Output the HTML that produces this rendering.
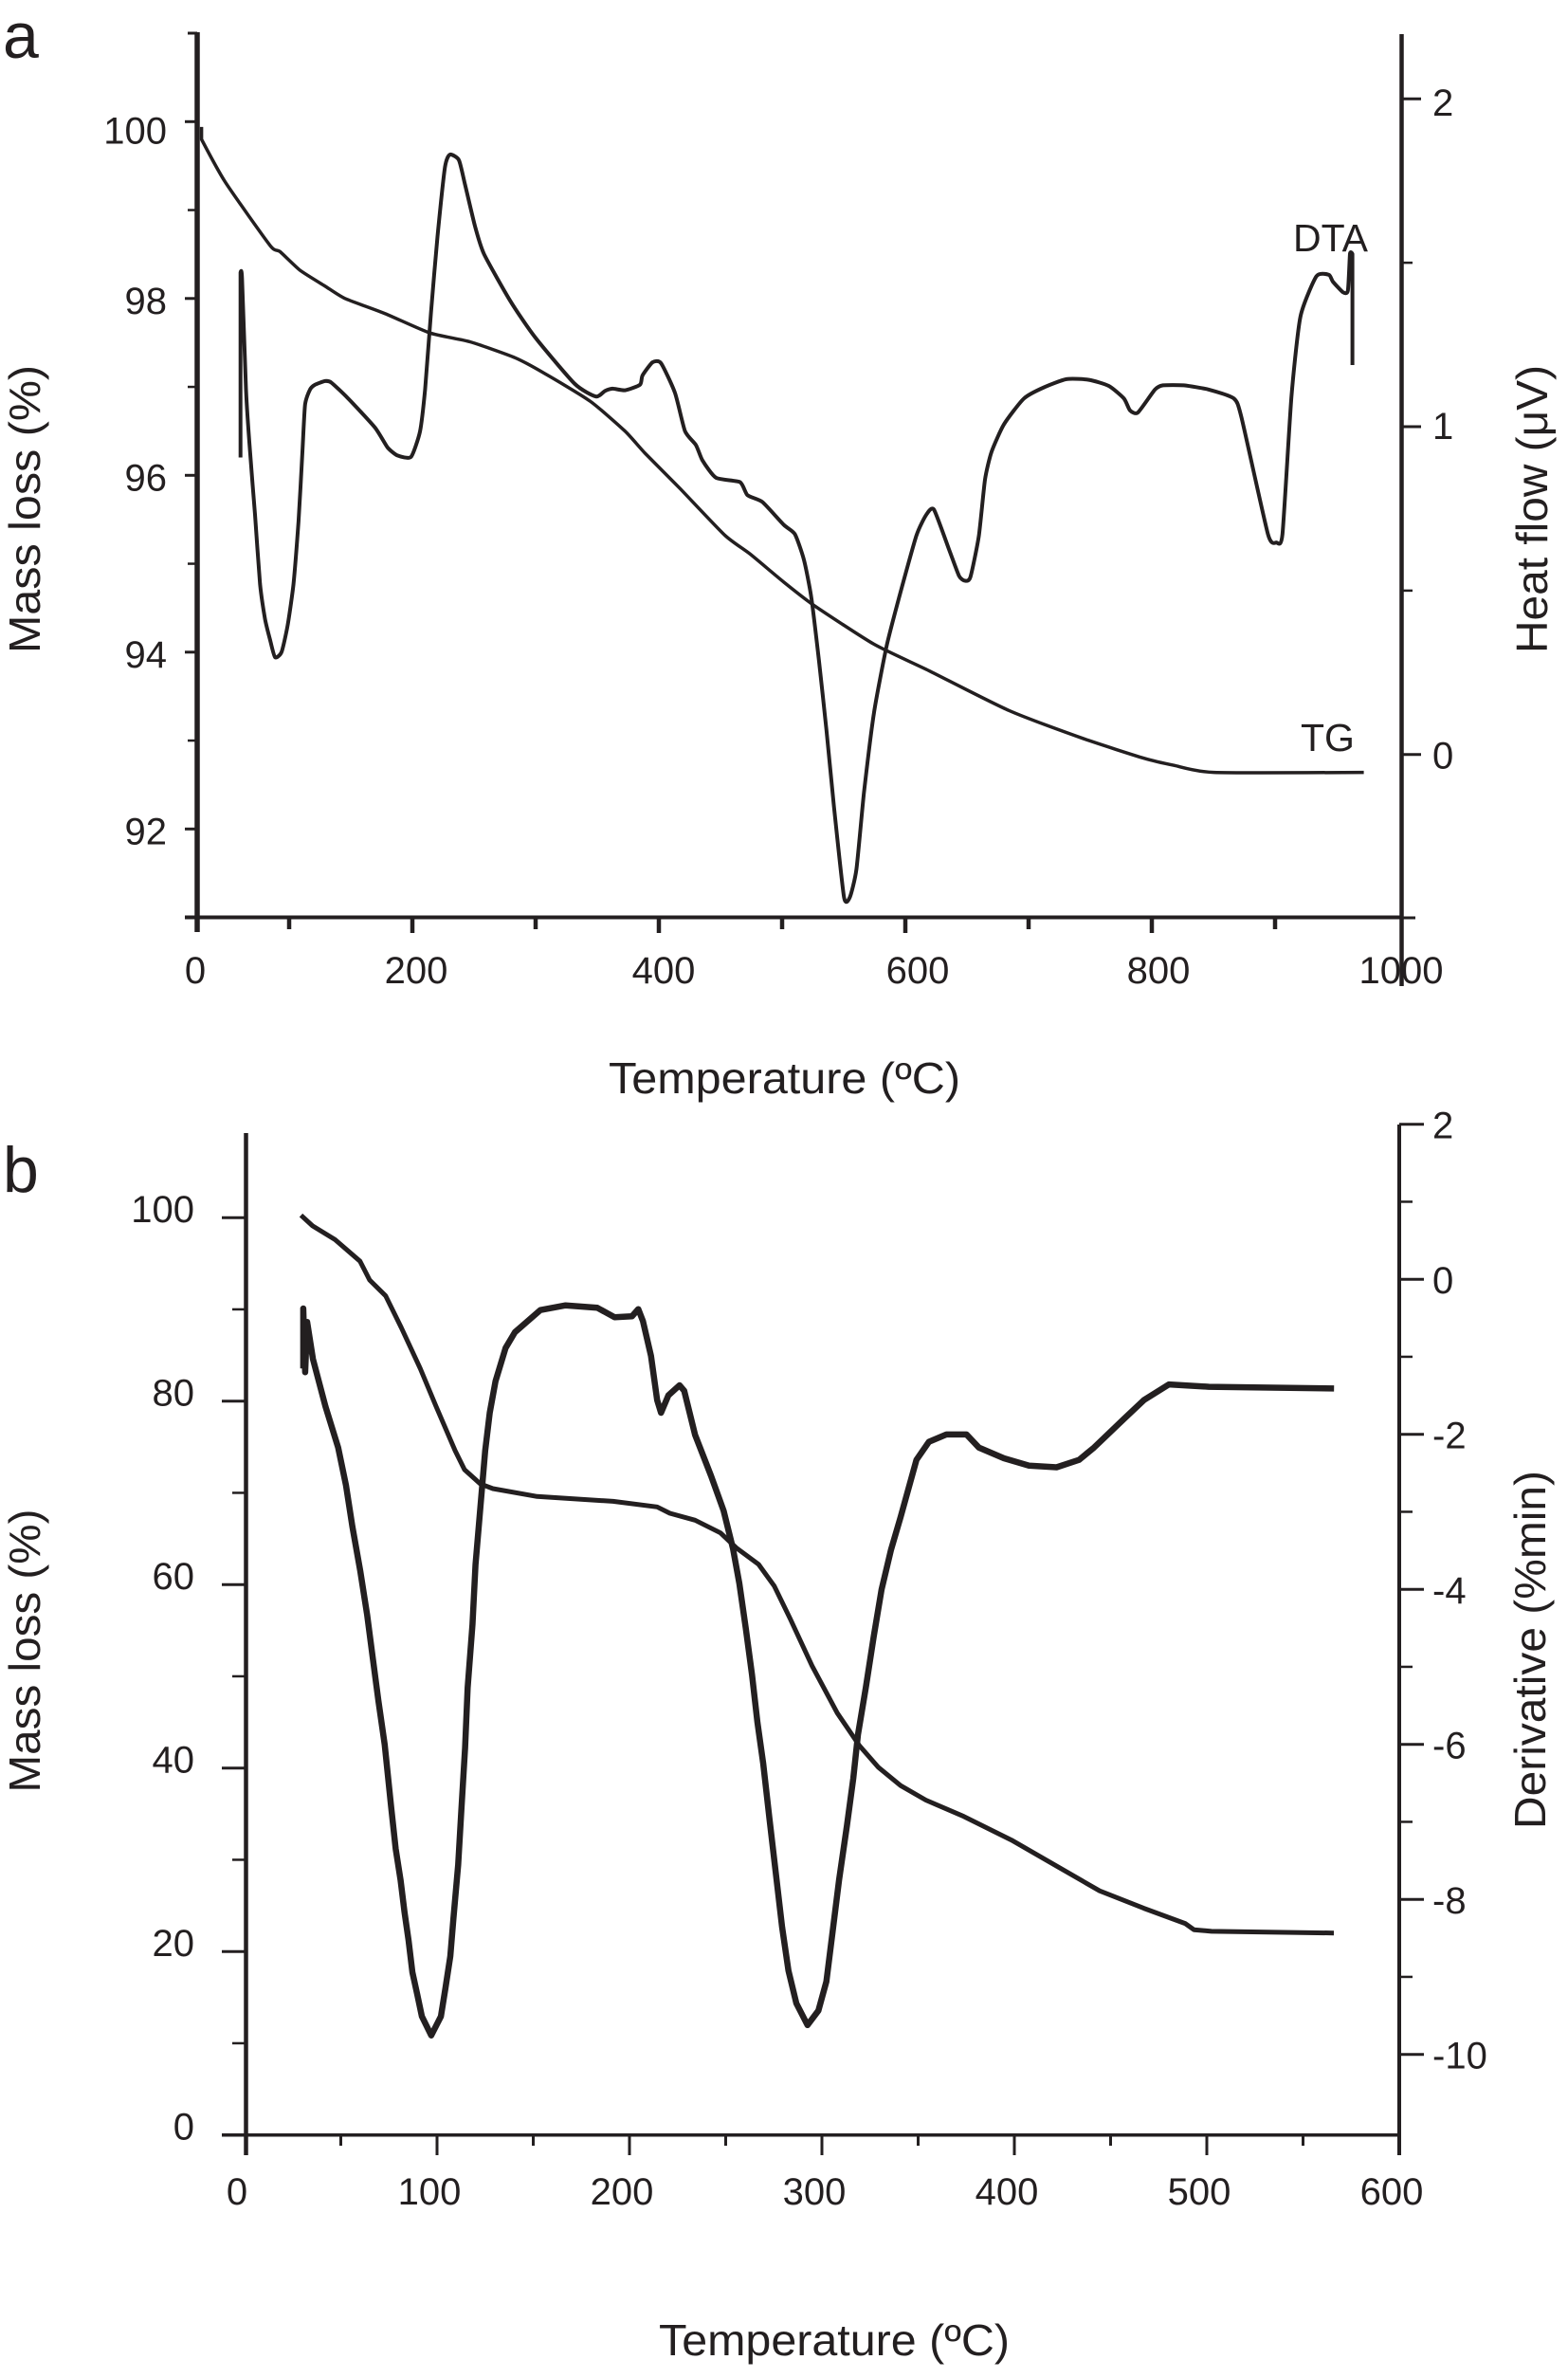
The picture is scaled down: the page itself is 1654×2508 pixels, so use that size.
<!DOCTYPE html>
<html lang="en">
<head>
<meta charset="utf-8">
<title>TG and DTA curves</title>
<style>
html,body{margin:0;padding:0;background:#fff;}
svg{display:block;}
text{font-family:"Liberation Sans",sans-serif;fill:#231f20;}
</style>
</head>
<body>
<svg id="fig" xmlns="http://www.w3.org/2000/svg" width="1654" height="2508" viewBox="0 0 1654 2508">
  <rect x="0" y="0" width="1654" height="2508" fill="#fff"/>
  <text x="3" y="61" font-size="68">a</text>
  <text x="3" y="1257" font-size="68">b</text>
  <text transform="translate(42,537) rotate(-90)" text-anchor="middle" font-size="46" textLength="304" lengthAdjust="spacingAndGlyphs">Mass loss (%)</text>
  <text transform="translate(1632,537) rotate(-90)" text-anchor="middle" font-size="46" textLength="304" lengthAdjust="spacingAndGlyphs">Heat flow (μV)</text>
  <text x="642" y="1153" font-size="46" textLength="371" lengthAdjust="spacingAndGlyphs">Temperature (ºC)</text>
  <text x="1364" y="265" font-size="41">DTA</text>
  <text x="1372" y="792" font-size="41">TG</text>
  <text transform="translate(42,1741) rotate(-90)" text-anchor="middle" font-size="46" textLength="299" lengthAdjust="spacingAndGlyphs">Mass loss (%)</text>
  <text transform="translate(1630,1740) rotate(-90)" text-anchor="middle" font-size="46" textLength="378" lengthAdjust="spacingAndGlyphs">Derivative (%min)</text>
  <text x="695" y="2484" font-size="46" textLength="370" lengthAdjust="spacingAndGlyphs">Temperature (ºC)</text>
  <g id="chart-a"></g>
  <g id="chart-b"></g>
</svg>
<script>
// Panel a data
const aTgTemp = [28.9,28.9,48,84.5,92.6,108.8,129.1,145.3,177.8,214.3,246.8,283.3,307.6,344.1,372.5,388.8,417.2,453.7,474,501.5,525.8,574.5,619.2,684,744.9,793.6,818,850.4,972];
const aTgMass = [99.94,99.80,99.32,98.60,98.53,98.32,98.14,98.00,97.83,97.61,97.51,97.33,97.15,96.84,96.50,96.25,95.85,95.32,95.11,94.79,94.53,94.09,93.79,93.34,93.02,92.80,92.72,92.64,92.64];
const aDtaTemp = [60.5,60.5,61.8,65,68.3,72.3,76.4,80.4,84.5,88.5,93.8,98.7,103.5,107.6,110.8,112.9,116.9,121,129.1,134,147.4,169.7,179.8,187.9,198.9,206.2,210.3,215.1,220.4,226.5,230.5,237.8,242.7,250.8,258.1,279.2,299.5,331.9,349,356.3,362.4,372.5,384.7,386.7,394.8,401.7,413.1,421.2,430.1,435.4,446.4,465.8,471.9,484.1,501.5,510.4,517.7,523.8,529.9,536,542.1,550.2,555,560.3,566.4,574.5,584.7,594.8,609,617.1,623.2,635.4,643.5,648.4,652.8,659.7,664.6,669.9,680,696.2,712.5,730.7,749,765.2,777.4,782.2,788.7,802.5,809,826,846.3,866.6,872.7,894.2,901.1,906,913.3,920.6,933.6,943.7,947,955.1,959.1,960.8,962.8,962.8];
const aDtaHeat = [0.906,1.470,1.453,1.113,0.923,0.732,0.520,0.414,0.350,0.297,0.312,0.392,0.520,0.711,0.923,1.067,1.113,1.128,1.139,1.135,1.088,0.997,0.937,0.912,0.908,0.986,1.113,1.347,1.580,1.792,1.830,1.813,1.739,1.612,1.527,1.385,1.273,1.130,1.092,1.109,1.116,1.111,1.128,1.156,1.196,1.194,1.103,0.986,0.944,0.897,0.844,0.831,0.791,0.770,0.700,0.672,0.594,0.477,0.286,0.074,-0.159,-0.435,-0.435,-0.350,-0.117,0.127,0.329,0.477,0.668,0.732,0.747,0.626,0.545,0.530,0.541,0.668,0.838,0.923,1.007,1.086,1.120,1.145,1.143,1.124,1.086,1.050,1.043,1.113,1.126,1.126,1.113,1.086,1.029,0.672,0.647,0.672,1.092,1.336,1.459,1.463,1.442,1.410,1.415,1.527,1.527,1.188];
const aXMajor = [200,400,600,800];
const aXMinor = [100,300,500,700,900];
const aXLabels = ["0","200","400","600","800","1000"];
const aXLabelValues = [0,200,400,600,800,1000];
const aYMajor = [100,98,96,94,92];
const aYMinor = [99,97,95,93,91];
const aYLabels = ["100","98","96","94","92"];
const aRMajor = [2,1,0];
const aRMinor = [1.5,0.5];
const aRLabels = ["2","1","0"];

// Panel b data
const bMassTemp = [29.3,35.3,47,60,65,73.3,81.4,91.3,99.5,109.4,114.3,122.5,129,152,191.5,214.4,221,234.1,247.3,255.5,267.1,275.2,283.5,294.9,308,319.5,329.4,340.9,354,373.7,398.4,423,444.3,467.3,488.7,493.3,502.4,566];
const bMassVal = [100.26,99.1,97.6,95.25,93.2,91.47,88.03,83.56,79.42,74.59,72.53,70.98,70.46,69.6,69.08,68.47,67.77,67.02,65.63,64,62.2,59.85,56.28,51.14,45.99,42.44,40.06,38.09,36.51,34.73,32.15,29.19,26.61,24.71,23.06,22.38,22.2,22.02];
const bDerivTemp = [30.5,30.5,31.5,32.5,35.5,42,48.6,52.7,56,60.1,63.7,66.7,69.5,72.8,76.2,78.5,81.1,83.1,85.2,87.2,89.7,92.1,97,102,104.4,106.9,108.5,111,112.6,114.6,115.9,118.4,120,122.5,125,127.4,130.4,135.6,140.5,153.7,166.8,183.3,192.3,201.3,204.6,207,211.2,214.4,216.4,220.2,226,228.4,234.1,242.4,248.9,253.8,257.1,260.4,263.7,266.5,269.5,272.7,276,279.3,282.6,286.7,292.5,298.2,302.3,305.6,308.9,313,316.3,318.7,322.8,326.9,331,335.9,340.9,349.1,355.6,364.7,375.1,381.6,394.6,407.6,421.9,433.6,441.4,457,467.4,480.3,501.1,566.1];
const bDerivVal = [-1.151,-0.377,-1.2,-0.55,-1.029,-1.64,-2.171,-2.661,-3.19,-3.761,-4.332,-4.903,-5.433,-6.004,-6.82,-7.349,-7.757,-8.165,-8.532,-8.94,-9.225,-9.51,-9.755,-9.51,-9.144,-8.735,-8.246,-7.553,-6.86,-6.044,-5.27,-4.454,-3.68,-2.946,-2.212,-1.722,-1.315,-0.887,-0.683,-0.398,-0.336,-0.368,-0.491,-0.478,-0.385,-0.539,-0.988,-1.56,-1.722,-1.498,-1.368,-1.437,-2.007,-2.538,-2.986,-3.475,-3.924,-4.495,-5.107,-5.719,-6.251,-6.953,-7.655,-8.358,-8.92,-9.341,-9.622,-9.435,-9.06,-8.405,-7.749,-7.047,-6.438,-5.876,-5.268,-4.613,-4.004,-3.489,-3.068,-2.33,-2.097,-2.002,-2.002,-2.171,-2.309,-2.404,-2.426,-2.33,-2.171,-1.801,-1.557,-1.356,-1.387,-1.409];
const bXMajor = [100,200,300,400,500,600];
const bXMinor = [50,150,250,350,450,550];
const bXLabels = ["0","100","200","300","400","500","600"];
const bXLabelValues = [0,100,200,300,400,500,600];
const bYMajor = [100,80,60,40,20,0];
const bYMinor = [90,70,50,30,10];
const bYLabels = ["100","80","60","40","20","0"];
const bRMajor = [2,0,-2,-4,-6,-8,-10];
const bRMinor = [1,-1,-3,-5,-7,-9];
const bRLabels = ["2","0","-2","-4","-6","-8","-10"];

const INK = '#231f20';
const SVGNS = 'http://www.w3.org/2000/svg';

// Axis functions
const axX = v => 175 + 1.3 * v;
const ayL = v => 128.3 + (100 - v) * 93.25;
const ayR = v => 795.8 - v * 345.8;
const bxX = v => 258 + 2.03 * v;
const byL = v => 2251.7 - 9.675 * v;
const byR = v => 1349.2 - 81.75 * v;

function drawLine(parent, name, x1, y1, x2, y2, w) {
  const el = document.createElementNS(SVGNS, 'line');
  
  
  el.setAttribute('x1', x1);
  el.setAttribute('y1', y1);
  el.setAttribute('x2', x2);
  el.setAttribute('y2', y2);
  el.setAttribute('stroke', INK);
  el.setAttribute('stroke-width', w);
  parent.appendChild(el);
}
function drawText(parent, name, x, y, str, anchor, size) {
  const el = document.createElementNS(SVGNS, 'text');
  
  
  el.setAttribute('x', x);
  el.setAttribute('y', y);
  el.setAttribute('text-anchor', anchor);
  el.setAttribute('font-size', size);
  el.textContent = str;
  parent.appendChild(el);
}
function drawCurve(parent, name, xs, ys, fx, fy, w, smooth) {
  const pts = xs.map((t, i) => [fx(t), fy(ys[i])]);
  let d = 'M' + pts[0][0].toFixed(1) + ' ' + pts[0][1].toFixed(1);
  for (let i = 1; i < pts.length; i++) {
    const p0 = pts[Math.max(i - 2, 0)];
    const p1 = pts[i - 1];
    const p2 = pts[i];
    const p3 = pts[Math.min(i + 1, pts.length - 1)];
    if (smooth && p1[0] !== p2[0]) {
      const s1 = p0[0] === p1[0] ? 0 : smooth;
      const s2 = p3[0] === p2[0] ? 0 : smooth;
      const c1x = p1[0] + (p2[0] - p0[0]) * s1;
      const c1y = p1[1] + (p2[1] - p0[1]) * s1;
      const c2x = p2[0] - (p3[0] - p1[0]) * s2;
      const c2y = p2[1] - (p3[1] - p1[1]) * s2;
      d += 'C' + c1x.toFixed(1) + ' ' + c1y.toFixed(1) + ' ' + c2x.toFixed(1) + ' ' + c2y.toFixed(1) + ' ' + p2[0].toFixed(1) + ' ' + p2[1].toFixed(1);
    } else {
      d += 'L' + p2[0].toFixed(1) + ' ' + p2[1].toFixed(1);
    }
  }
  const el = document.createElementNS(SVGNS, 'path');
  
  
  el.setAttribute('d', d);
  el.setAttribute('fill', 'none');
  el.setAttribute('stroke', INK);
  el.setAttribute('stroke-width', w);
  el.setAttribute('stroke-linejoin', 'round');
  parent.appendChild(el);
}

// Panel a
const ga = document.getElementById('chart-a');
drawLine(ga, 'a-left-axis', 208, 34, 208, 983, 5.5);
drawLine(ga, 'a-axis-top-cap', 198, 35, 208, 35, 3);
drawLine(ga, 'a-bottom-axis', 195, 967.5, 1478, 967.5, 4);
drawLine(ga, 'a-right-axis', 1478.5, 36, 1478.5, 1040, 4.5);
drawLine(ga, 'a-right-axis-bottom-tick', 1478, 968, 1493, 968, 3);
aYMajor.forEach((v, i) => {
  drawLine(ga, 'a-left-tick-major', 195, ayL(v), 208, ayL(v), 3);
  drawText(ga, 'a-left-tick-label', 176, ayL(v) + (v === 100 ? 23 : 16), aYLabels[i], 'end', 40);
});
aYMinor.forEach(v => {
  drawLine(ga, 'a-left-tick-minor', 198, ayL(v), 208, ayL(v), 2.5);
});
aXMajor.forEach(v => {
  drawLine(ga, 'a-bottom-tick-major', axX(v), 967, axX(v), 984, 4.5);
});
aXMinor.forEach(v => {
  drawLine(ga, 'a-bottom-tick-minor', axX(v), 967, axX(v), 980, 4.5);
});
aXLabels.forEach((s, i) => {
  const v = aXLabelValues[i];
  const nudge = v === 0 ? 31 : v === 200 ? 4 : v === 400 ? 5 : v === 600 ? 13 : v === 800 ? 7 : 3;
  drawText(ga, 'a-bottom-tick-label', axX(v) + nudge, 1037, s, 'middle', 40);
});
aRMajor.forEach((v, i) => {
  drawLine(ga, 'a-right-tick-major', 1478, ayR(v), 1499, ayR(v), 3);
  const lift = v === 2 ? 18 : v === 1 ? 13 : 14.7;
  drawText(ga, 'a-right-tick-label', 1511, ayR(v) + lift, aRLabels[i], 'start', 40);
});
aRMinor.forEach(v => {
  drawLine(ga, 'a-right-tick-minor', 1478, ayR(v), 1490, ayR(v), 2.5);
});
drawCurve(ga, 'tg-curve', aTgTemp, aTgMass, axX, ayL, 3.5, 0.1);
drawCurve(ga, 'dta-curve', aDtaTemp, aDtaHeat, axX, ayR, 4, 0.1);

// Panel b
const gb = document.getElementById('chart-b');
drawLine(gb, 'b-left-axis', 259.5, 1195, 259.5, 2273, 4.5);
drawLine(gb, 'b-bottom-axis', 234, 2251.7, 1476, 2251.7, 3.5);
drawLine(gb, 'b-right-axis', 1476, 1186, 1476, 2273, 4);
bYMajor.forEach((v, i) => {
  drawLine(gb, 'b-left-tick-major', 234, byL(v), 259, byL(v), 3);
  drawText(gb, 'b-left-tick-label', 205, byL(v) + 5, bYLabels[i], 'end', 40);
});
bYMinor.forEach(v => {
  drawLine(gb, 'b-left-tick-minor', 245, byL(v), 259, byL(v), 2.5);
});
bXMajor.forEach(v => {
  drawLine(gb, 'b-bottom-tick-major', bxX(v), 2251.7, bxX(v), 2273, 3);
});
bXMinor.forEach(v => {
  drawLine(gb, 'b-bottom-tick-minor', bxX(v), 2251.7, bxX(v), 2263, 3);
});
bXLabels.forEach((s, i) => {
  drawText(gb, 'b-bottom-tick-label', bxX(bXLabelValues[i]) - 8, 2325, s, 'middle', 40);
});
bRMajor.forEach((v, i) => {
  drawLine(gb, 'b-right-tick-major', 1476, byR(v), 1502, byR(v), 3);
  drawText(gb, 'b-right-tick-label', 1511, byR(v) + 15, bRLabels[i], 'start', 40);
});
bRMinor.forEach(v => {
  drawLine(gb, 'b-right-tick-minor', 1476, byR(v), 1490, byR(v), 2.5);
});
drawCurve(gb, 'mass-loss-curve', bMassTemp, bMassVal, bxX, byL, 5, 0);
drawCurve(gb, 'derivative-curve', bDerivTemp, bDerivVal, bxX, byR, 6.5, 0);
</script>
</body>
</html>
